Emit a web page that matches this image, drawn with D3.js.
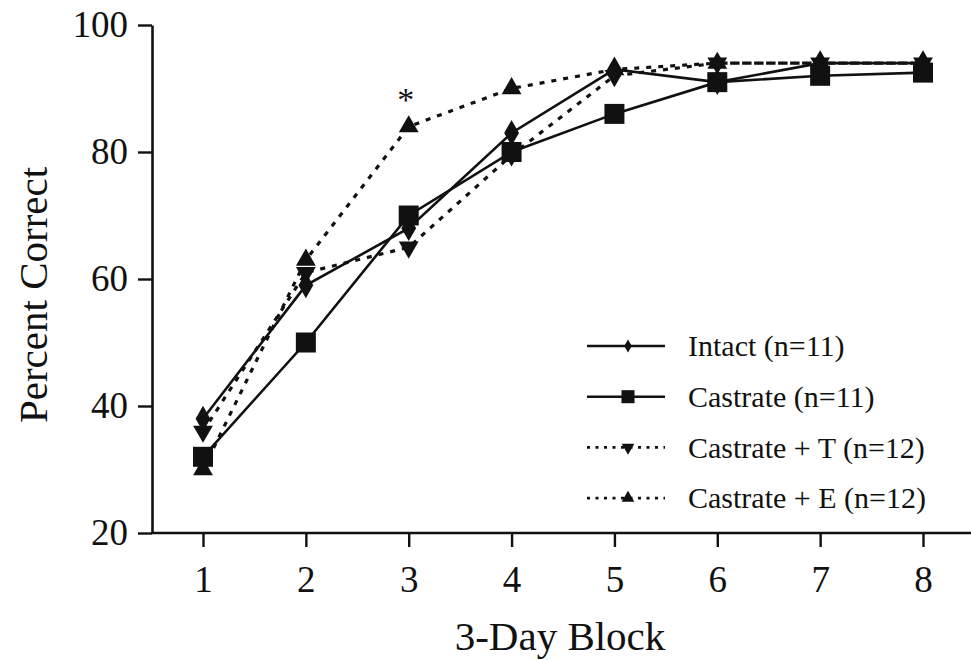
<!DOCTYPE html>
<html>
<head>
<meta charset="utf-8">
<script src="https://cdn.jsdelivr.net/npm/d3@7"></script>
<style>
  body { margin: 0; background: #fff; }
  svg { display: block; font-family: "Liberation Serif", "Times New Roman", serif; }
</style>
</head>
<body>
<svg id="chart" width="971" height="660"></svg>
<script>
// data
const blocks = [1, 2, 3, 4, 5, 6, 7, 8];
const intact = [38, 59, 68, 83, 93, 91, 94, 94];
const castrate = [32, 50, 70, 80, 86, 91, 92, 92.5];
const castrateT = [36, 61, 65, 79.5, 92, 94, 94, 94];
const castrateE = [30, 63, 84, 90, 93, 94, 94, 94];
const yTicks = [20, 40, 60, 80, 100];
const seriesNames = ["Intact (n=11)", "Castrate (n=11)", "Castrate + T (n=12)", "Castrate + E (n=12)"];

const svg = d3.select("#chart");
const width = 971;

const x = d3.scaleLinear().domain([1, 8]).range([203, 923]);
const y = d3.scaleLinear().domain([20, 100]).range([533, 25]);

const ink = "#111";

//series styling: symbol, size, dashed or not
const series = [
    { name: seriesNames[0], values: intact, symbol: d3.symbolDiamond, size: 190, rot: 0, dashed: false, lsize: 50 },
    { name: seriesNames[1], values: castrate, symbol: d3.symbolSquare, size: 400, rot: 0, dashed: false, lsize: 170 },
    { name: seriesNames[2], values: castrateT, symbol: d3.symbolTriangle, size: 170, rot: 180, dashed: true, lsize: 70 },
    { name: seriesNames[3], values: castrateE, symbol: d3.symbolTriangle, size: 170, rot: 0, dashed: true, lsize: 70 }
];

//axes
const yAxis = d3.axisLeft(y).tickValues(yTicks).tickSize(14).tickSizeOuter(0).tickPadding(10);
const gy = svg.append("g").attr("transform", "translate(152,0)").call(yAxis);
gy.select(".domain").attr("stroke", ink).attr("stroke-width", 2.6);
gy.selectAll(".tick line").attr("stroke", ink).attr("stroke-width", 2.4);
gy.selectAll(".tick text").attr("font-size", 37).attr("fill", ink)
    .attr("font-family", "Liberation Serif");

const xAxis = d3.axisBottom(x).tickValues(blocks).tickSize(14).tickFormat(d3.format("d"));
const gx = svg.append("g").attr("transform", `translate(0,${y(20)})`).call(xAxis);
gx.select(".domain").remove();
gx.selectAll(".tick line").attr("stroke", ink).attr("stroke-width", 2.4);
gx.selectAll(".tick text").attr("font-size", 37).attr("fill", ink)
    .attr("font-family", "Liberation Serif")
    .attr("y", 59).attr("dy", 0);
//x axis line runs from the y axis to the right edge
gx.append("line")
    .attr("x1", 151).attr("x2", width)
    .attr("stroke", ink).attr("stroke-width", 2.6);

//axis titles
svg.append("text")
    .attr("x", 560).attr("y", 650)
    .attr("text-anchor", "middle")
    .attr("font-size", 41)
    .attr("fill", ink)
    .text("3-Day Block");

svg.append("text")
    .attr("transform", "translate(47,295) rotate(-90)")
    .attr("text-anchor", "middle")
    .attr("font-size", 41)
    .attr("fill", ink)
    .text("Percent Correct");

//lines
const line = d3.line()
    .x((d, i) => x(blocks[i]))
    .y(d => y(d));

svg.append("g").selectAll("path").data(series)
    .enter().append("path")
    .attr("d", d => line(d.values))
    .attr("fill", "none")
    .attr("stroke", ink)
    .attr("stroke-width", d => d.dashed ? 3.2 : 2.6)
    .attr("stroke-dasharray", d => d.dashed ? "5,7" : null);

//markers, drawn so the squares end up on top
const drawOrder = [series[3], series[2], series[0], series[1]];
drawOrder.forEach(s => {
    svg.append("g").selectAll("path").data(s.values)
        .enter().append("path")
        .attr("d", d3.symbol().type(s.symbol).size(s.size))
        .attr("transform", (d, i) => `translate(${x(blocks[i])},${y(d)}) rotate(${s.rot})`)
        .attr("fill", ink);
});

//significance mark over block 3
svg.append("text")
    .attr("x", x(3) - 3)
    .attr("y", y(castrateE[2]) - 16)
    .attr("text-anchor", "middle")
    .attr("font-size", 34)
    .attr("fill", ink)
    .text("*");

//legend
const legend = svg.append("g").attr("transform", "translate(587,346)");
const rows = legend.selectAll(".legends").data(series)
    .enter().append("g")
    .classed("legends", true)
    .attr("transform", (d, i) => `translate(0,${i * 50.7})`);

rows.append("line")
    .attr("x1", 0).attr("x2", 78)
    .attr("stroke", ink)
    .attr("stroke-width", d => d.dashed ? 2.8 : 2.4)
    .attr("stroke-dasharray", d => d.dashed ? "3,5.5" : null);

rows.append("path")
    .attr("d", d => d3.symbol().type(d.symbol).size(d.lsize)())
    .attr("transform", d => `translate(41,0) rotate(${d.rot})`)
    .attr("fill", ink);

rows.append("text")
    .attr("x", 101)
    .attr("dy", "0.34em")
    .attr("font-size", 30)
    .attr("fill", ink)
    .text(d => d.name);
</script>
</body>
</html>
